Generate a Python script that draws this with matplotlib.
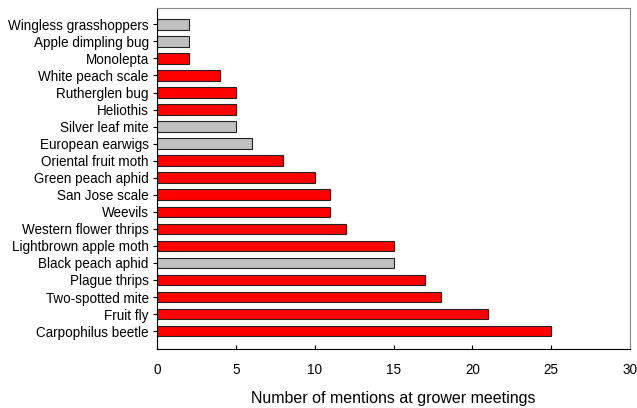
import matplotlib.pyplot as plt

plt.rcParams['font.family'] = ['Liberation Sans', 'DejaVu Sans']

pests = ['Carpophilus beetle', 'Fruit fly', 'Two-spotted mite', 'Plague thrips',
         'Black peach aphid', 'Lightbrown apple moth', 'Western flower thrips',
         'Weevils', 'San Jose scale', 'Green peach aphid', 'Oriental fruit moth',
         'European earwigs', 'Silver leaf mite', 'Heliothis', 'Rutherglen bug',
         'White peach scale', 'Monolepta', 'Apple dimpling bug',
         'Wingless grasshoppers']
mentions = [25, 21, 18, 17, 15, 15, 12, 11, 11, 10, 8, 6, 5, 5, 5, 4, 2, 2, 2]
grey = ['Black peach aphid', 'European earwigs', 'Silver leaf mite',
        'Apple dimpling bug', 'Wingless grasshoppers']

colors = ['#c0c0c0' if p in grey else '#ff0000' for p in pests]

fig = plt.figure(figsize=(6.37, 4.08), dpi=100)
ax = fig.add_axes([0.2465, 0.1446, 0.7425, 0.8354])

ax.barh(range(len(pests)), mentions, height=0.62, color=colors,
        edgecolor='#222222', linewidth=0.8)

ax.set_yticks(range(len(pests)))
ax.set_yticklabels(pests, fontsize=9.75)
ax.set_ylim(-1.05, 18.95)
ax.set_xlim(0, 30)
ax.set_xticks([0, 5, 10, 15, 20, 25, 30])
ax.tick_params(axis='x', direction='in', length=3, pad=10, labelsize=9.75)
ax.tick_params(axis='y', direction='out', length=3, pad=3)
ax.set_xlabel('Number of mentions at grower meetings', fontsize=11.5, labelpad=10)
for s in ax.spines.values():
    s.set_linewidth(0.8)
ax.spines['top'].set_color('#888888')
ax.spines['right'].set_color('#888888')

fig.savefig('out.png', dpi=100)
